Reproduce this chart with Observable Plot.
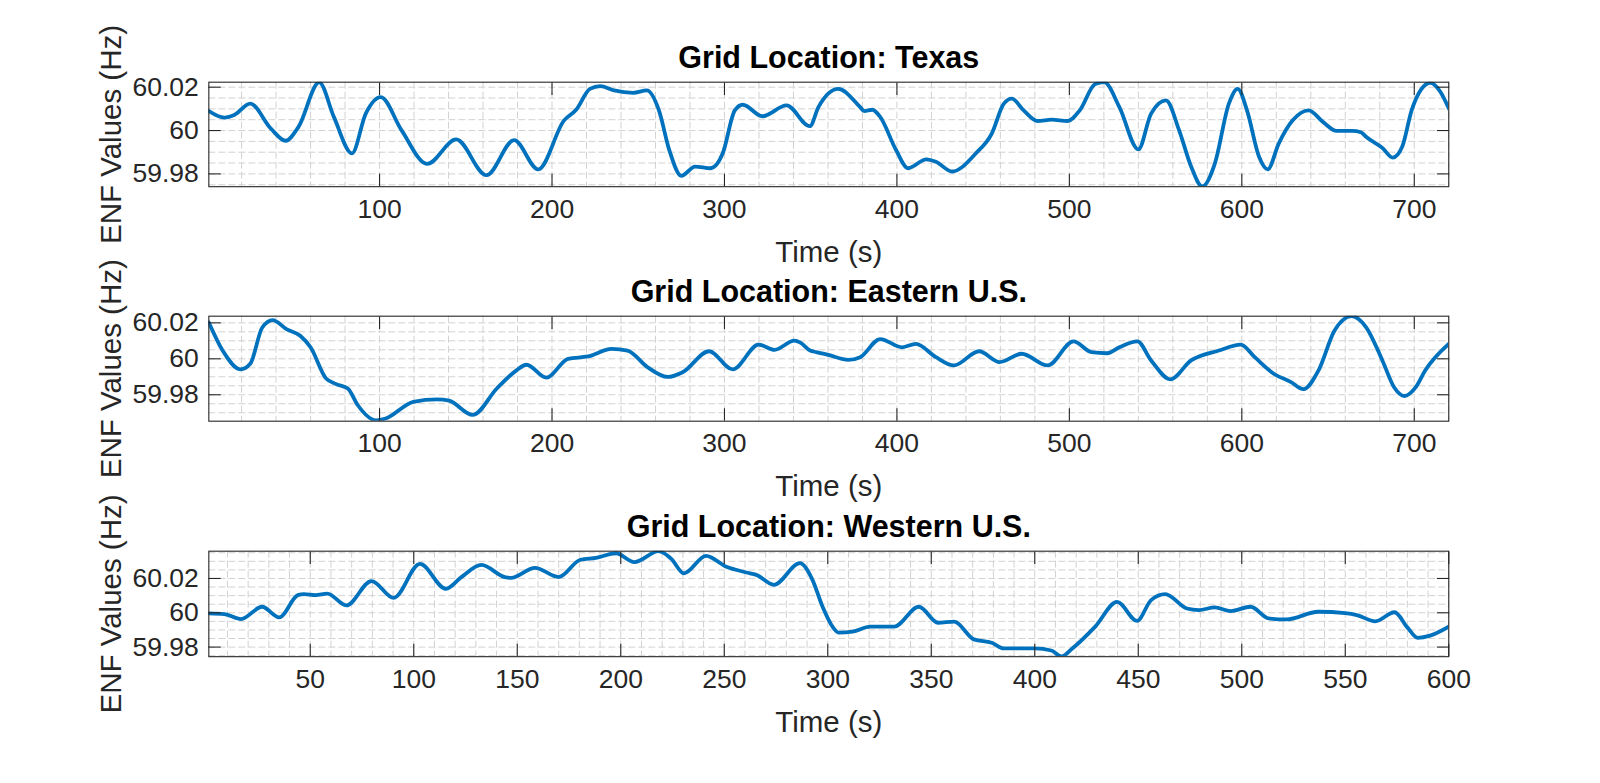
<!DOCTYPE html>
<html><head><meta charset="utf-8">
<script src="https://cdn.jsdelivr.net/npm/d3@7"></script>
<script src="https://cdn.jsdelivr.net/npm/@observablehq/plot@0.6"></script>
<style>
html,body{margin:0;padding:0;background:#fff;}
#fig{position:relative;width:1600px;height:783px;overflow:hidden;background:#fff;}
#fig svg{position:absolute;left:0;overflow:visible;}
</style></head><body><div id="fig"></div>
<script>
// ---- data ----
const texasTime = [1,10,16,25,37,45.5,53,65,73.5,84,92,100.7,112.7,127.6,144.4,162,178,192,207,214,222,228,236,247,255,262,268,275,283,292,299,306,310.6,322,336,349.5,354.5,366,378.7,381,385.7,390.3,399.5,406.5,417,422.6,432,445.8,455,462,466.6,473.5,481.6,489.7,499,506,515,520.2,529,540,547.4,556,563.6,570.6,577,584.4,592.5,597.6,603,610,615,621.4,629.5,638.7,647,655,664,669,672.2,681.5,687.5,693,698.5,704,709.4,715,720];
const texasHz = [60.0090,60.0060,60.0073,60.0124,60.0009,59.9953,60.0017,60.0222,60.0063,59.9895,60.0078,60.0154,60.0002,59.9846,59.9959,59.9794,59.9956,59.9821,60.0047,60.0096,60.0192,60.0205,60.0185,60.0174,60.0185,60.0093,59.9910,59.9791,59.9834,59.9826,59.9895,60.0093,60.0119,60.0066,60.0116,60.0020,60.0108,60.0192,60.0108,60.0090,60.0096,60.0063,59.9910,59.9826,59.9867,59.9856,59.9811,59.9895,59.9986,60.0124,60.0147,60.0093,60.0044,60.0050,60.0044,60.0093,60.0215,60.0223,60.0108,59.9913,60.0078,60.0139,60.0002,59.9834,59.9742,59.9849,60.0124,60.0192,60.0093,59.9879,59.9821,59.9940,60.0047,60.0093,60.0040,59.9998,59.9998,59.9992,59.9970,59.9920,59.9875,59.9925,60.0094,60.0190,60.0220,60.0180,60.0102];

const easternTime = [1,9,19.4,25,32,38,46,54,60,69,75,81.6,87.3,98,103.5,119.6,133.4,140.3,154,168,179.4,185.2,196.7,209.3,220.8,234.6,243.8,255.3,267,276,291,304.8,319.8,329,340.5,344,349.7,353.3,360.2,371.8,378.7,390.3,403,411,422.6,433,447.6,459.6,472.3,487.4,502.4,512.8,522,529,539.4,547.4,558.5,570.6,586.7,599.4,607.5,619,628.3,635.7,644.5,653.7,663.7,672.2,681.5,688.4,694.2,701,706.4,720];
const easternHz = [60.0202,60.0046,59.9941,59.9972,60.0174,60.0215,60.0165,60.0128,60.0064,59.9890,59.9859,59.9835,59.9743,59.9658,59.9668,59.9761,59.9774,59.9767,59.9688,59.9835,59.9936,59.9967,59.9895,60.0000,60.0013,60.0055,60.0046,59.9954,59.9899,59.9927,60.0042,59.9941,60.0079,60.0050,60.0101,60.0090,60.0046,60.0037,60.0022,59.9994,60.0009,60.0110,60.0064,60.0083,60.0009,59.9963,60.0042,59.9982,60.0028,59.9963,60.0097,60.0037,60.0031,60.0064,60.0097,59.9991,59.9886,59.9991,60.0046,60.0079,60.0009,59.9914,59.9872,59.9831,59.9936,60.0156,60.0237,60.0174,59.9991,59.9840,59.9793,59.9844,59.9936,60.0083];

const westernTime = [1,8.5,16.6,26.7,35,44,47,52.5,58.2,67.4,79.6,90.3,103,115.5,123,132.7,144,147,158.5,170,180.5,188,197.7,206.6,218.3,224.4,230.5,241.2,251,260.7,265.5,274,286.5,292.5,297.5,302.3,305.2,312,320.6,332,344,353.3,361,370.6,379.2,385,400,408,413,418,429.2,439.8,449.4,456.2,463,473.5,479.2,487,494.6,504.2,513,521.5,537,550,556,564.5,573.8,580,585,591,600];
const westernHz = [59.9996,59.9992,59.9963,60.0035,59.9973,60.0103,60.0109,60.0103,60.0112,60.0043,60.0185,60.0087,60.0285,60.0140,60.0208,60.0279,60.0208,60.0204,60.0262,60.0208,60.0309,60.0320,60.0347,60.0295,60.0359,60.0314,60.0230,60.0332,60.0268,60.0235,60.0221,60.0163,60.0289,60.0195,60.0035,59.9919,59.9884,59.9890,59.9919,59.9919,60.0035,59.9942,59.9948,59.9845,59.9825,59.9792,59.9792,59.9780,59.9745,59.9790,59.9919,60.0064,59.9953,60.0074,60.0109,60.0025,60.0016,60.0031,60.0010,60.0035,59.9967,59.9961,60.0006,59.9998,59.9985,59.9950,60.0003,59.9915,59.9854,59.9867,59.9919];

const titles = ["Grid Location: Texas", "Grid Location: Eastern U.S.", "Grid Location: Western U.S."];
const xLabel = "Time (s)";
const yLabel = "ENF Values (Hz)";
const xTicks720 = [100,200,300,400,500,600,700];
const xTicks600 = [50,100,150,200,250,300,350,400,450,500,550,600];
const yTicks = [59.98, 60, 60.02];
const yTickLabels = ["59.98", "60", "60.02"];

// ---- drawing ----
const FONT = '"Liberation Sans", Arial, Helvetica, sans-serif';
const TXT = "#262626";
const LINE = "#0072BD";
const GRID = "#d2d2d2";

const panels = [
  {title: titles[0], time: texasTime, hz: texasHz, xDomain: [1, 720], yDomain: [59.9741, 60.0223], xTicks: xTicks720, xMinor: 20, svgTop: 0, h: 104.5},
  {title: titles[1], time: easternTime, hz: easternHz, xDomain: [1, 720], yDomain: [59.9653, 60.0237], xTicks: xTicks720, xMinor: 20, svgTop: 234.3, h: 105},
  {title: titles[2], time: westernTime, hz: westernHz, xDomain: [1, 600], yDomain: [59.9744, 60.0359], xTicks: xTicks600, xMinor: 10, svgTop: 468.6, h: 105.5}
];

const fig = document.getElementById("fig");
const MT = 81.7, MB = 50, ML = 208.3, MR = 151.7, TICK = 12.4;

for (const p of panels) {
  const rows = p.time.map((t, i) => ({t, hz: p.hz[i]}));
  const xMinorTicks = d3.range(p.xMinor, p.xDomain[1] + 1e-9, p.xMinor);
  const yMinorTicks = d3.range(59.97, 60.04 + 1e-9, 0.005).map(v => +v.toFixed(3)).filter(v => v >= p.yDomain[0] && v <= p.yDomain[1]);
  const gridOpts = {stroke: GRID, strokeOpacity: 1, strokeWidth: 1, strokeDasharray: "7,3"};
  const chart = Plot.plot({
    width: 1600,
    height: MT + p.h + MB,
    marginTop: MT, marginBottom: MB, marginLeft: ML, marginRight: MR,
    style: {fontFamily: FONT, color: TXT, background: "transparent", overflow: "visible"},
    x: {domain: p.xDomain},
    y: {domain: p.yDomain},
    marks: [
      Plot.gridX(xMinorTicks, gridOpts),
      Plot.gridY(yMinorTicks, gridOpts),
      Plot.line(rows, {x: "t", y: "hz", stroke: LINE, strokeWidth: 3.8, curve: "monotone-x", clip: true}),
      Plot.frame({stroke: TXT, strokeWidth: 1.1}),
      Plot.axisX(p.xTicks, {anchor: "bottom", tickSize: -TICK, tickFormat: () => "", label: null, strokeWidth: 1.1}),
      Plot.axisX(p.xTicks, {anchor: "top", tickSize: -TICK, tickFormat: () => "", label: null, strokeWidth: 1.1}),
      Plot.axisY(yTicks, {anchor: "left", tickSize: -TICK, tickFormat: () => "", label: null, strokeWidth: 1.1}),
      Plot.axisY(yTicks, {anchor: "right", tickSize: -TICK, tickFormat: () => "", label: null, strokeWidth: 1.1}),
      Plot.axisX(p.xTicks, {anchor: "bottom", tickSize: 0, tickPadding: 12, tickFormat: d => String(d), label: null, fontSize: 26.5, fill: TXT}),
      Plot.axisY(yTicks, {anchor: "left", tickSize: 0, tickPadding: 10, tickFormat: d => yTickLabels[yTicks.indexOf(d)], label: null, fontSize: 26.5, fill: TXT}),
      Plot.text([p.title], {text: d => d, frameAnchor: "top", dy: -14, lineAnchor: "bottom", fontWeight: "bold", fontSize: 30.5, fill: "#000"}),
      Plot.text([xLabel], {text: d => d, frameAnchor: "bottom", dy: 75, lineAnchor: "bottom", fontSize: 29.5, fill: TXT}),
      Plot.text([yLabel], {text: d => d, frameAnchor: "left", textAnchor: "middle", dx: -88, rotate: -90, lineAnchor: "bottom", fontSize: 29.5, fill: TXT})
    ]
  });
  chart.style.top = p.svgTop + "px";
  fig.appendChild(chart);
}
</script></body></html>
